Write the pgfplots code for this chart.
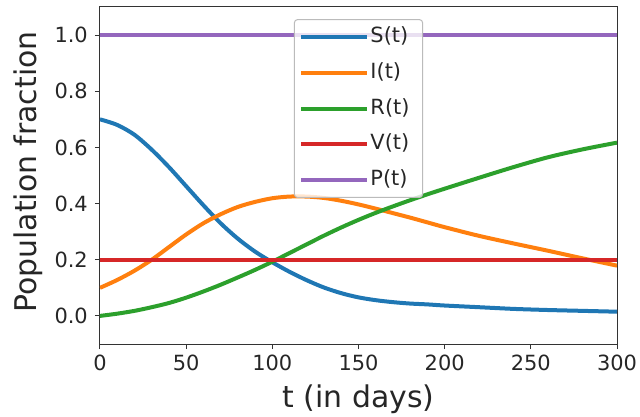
\documentclass[border=0pt]{standalone}
\usepackage{fontspec}
\setmainfont{DejaVu Sans}
\usepackage{pgfplots}
\pgfplotsset{compat=1.18}
\definecolor{cS}{HTML}{1F77B4}
\definecolor{cI}{HTML}{FF7F0E}
\definecolor{cR}{HTML}{2CA02C}
\definecolor{cV}{HTML}{D62728}
\definecolor{cP}{HTML}{9467BD}
\definecolor{legframe}{HTML}{BBBBBB}
\begin{document}
\begin{tikzpicture}
\begin{axis}[
  scale only axis, width=517bp, height=337bp,
  xmin=0, xmax=300, ymin=-0.1, ymax=1.1,
  xtick={0,50,100,150,200,250,300},
  xticklabels={0,50,100,150,200,250,300},
  ytick={0,0.2,0.4,0.6,0.8,1.0},
  yticklabels={0.0,0.2,0.4,0.6,0.8,1.0},
  xtick pos=lower, ytick pos=left,
  tick align=outside, major tick length=5bp,
  tick style={line width=1bp, color=black!80},
  axis line style={line width=1bp, color=black!80},
  ticklabel style={font=\fontsize{21}{25}\selectfont, text=black!85, inner sep=0pt},
  xticklabel style={yshift=-6bp},
  yticklabel style={xshift=-7bp},
  xlabel={t (in days)}, ylabel={Population fraction},
  label style={font=\fontsize{30}{36}\selectfont, text=black!85, inner sep=0pt},
  xlabel style={at={(axis description cs:0.5,-0.187)}, anchor=base},
  ylabel style={at={(axis description cs:-0.1219,0.51)}, anchor=base},
  every axis plot/.append style={line width=4bp},
  legend cell align=left,
  legend image code/.code={\draw[#1] (0bp,0bp) -- (51bp,0bp); \path (0bp,0bp) -- (66bp,0bp);},
  legend style={at={(0.5,0.964)}, anchor=north, draw=legframe, line width=1bp, fill=white, fill opacity=0.8, text opacity=1,
    rounded corners=3bp, font=\fontsize{21}{25}\selectfont, text=black!85,
    inner xsep=5bp, inner ysep=7bp, row sep=14.7bp,
    nodes={inner sep=1bp, text height=15bp, text depth=4bp}},
]
\addplot[cS, smooth] coordinates {(0,0.700) (10,0.680) (20,0.645) (30,0.592) (40,0.530) (50,0.462) (60,0.394) (70,0.330) (80,0.275) (90,0.229) (100,0.191) (110,0.157) (120,0.127) (130,0.101) (140,0.081) (150,0.066) (160,0.056) (170,0.049) (180,0.044) (190,0.041) (200,0.037) (220,0.031) (240,0.025) (260,0.021) (280,0.018) (300,0.015)};
\addlegendentry{S(t)\hspace*{7bp}}
\addplot[cI, smooth] coordinates {(0,0.100) (10,0.128) (20,0.161) (30,0.200) (40,0.245) (50,0.290) (60,0.330) (70,0.362) (80,0.388) (90,0.406) (100,0.419) (110,0.425) (120,0.425) (130,0.420) (140,0.410) (150,0.397) (160,0.382) (170,0.366) (180,0.350) (190,0.333) (200,0.316) (220,0.285) (240,0.258) (260,0.232) (280,0.205) (300,0.179)};
\addlegendentry{I(t)\hspace*{7bp}}
\addplot[cR, smooth] coordinates {(0,0.000) (10,0.008) (20,0.018) (30,0.031) (40,0.046) (50,0.065) (60,0.087) (70,0.111) (80,0.137) (90,0.164) (100,0.193) (110,0.224) (120,0.255) (130,0.286) (140,0.315) (150,0.342) (160,0.367) (170,0.390) (180,0.412) (190,0.433) (200,0.453) (220,0.492) (240,0.530) (260,0.565) (280,0.593) (300,0.617)};
\addlegendentry{R(t)\hspace*{7bp}}
\addplot[cV] coordinates {(0,0.2) (300,0.2)};
\addlegendentry{V(t)\hspace*{7bp}}
\addplot[cP] coordinates {(0,1.0) (300,1.0)};
\addlegendentry{P(t)\hspace*{7bp}}
\end{axis}
\path (-100bp,-73bp) rectangle (540bp,344bp);
\end{tikzpicture}
\end{document}
